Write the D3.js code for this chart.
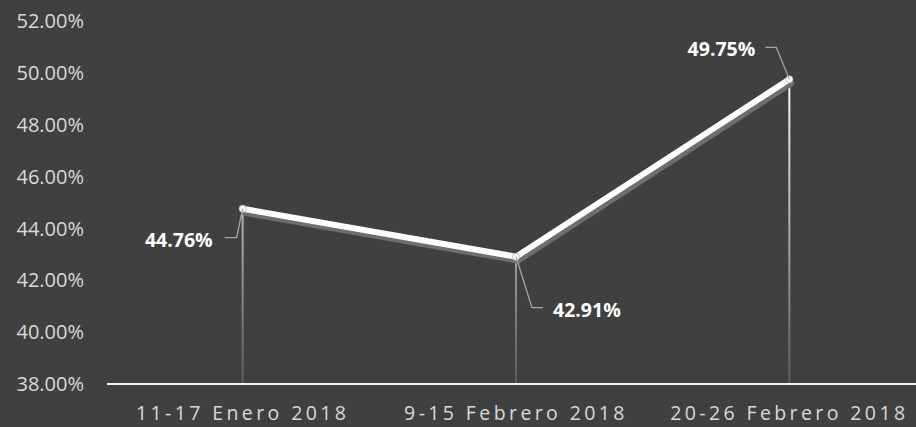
<!DOCTYPE html>
<html>
<head>
<meta charset="utf-8">
<script src="https://cdn.jsdelivr.net/npm/d3@7"></script>
<style>
  body { margin: 0; background: #404040; }
  svg { display: block; }
</style>
</head>
<body>
<svg width="916" height="427"></svg>
<script>
var categories = ["11-17 Enero 2018", "9-15 Febrero 2018", "20-26 Febrero 2018"];
var values = [44.76, 42.91, 49.75];
var yTicks = [38, 40, 42, 44, 46, 48, 50, 52];

var svg = d3.select("svg"),
    width = +svg.attr("width"),
    height = +svg.attr("height");

svg.append("rect").attr("width", width).attr("height", height).attr("fill", "#404040");

var x = d3.scaleBand().domain(categories).range([106, 926]);
var y = d3.scaleLinear().domain([38, 52]).range([384, 21]);
var fmt = function (d) { return d.toFixed(2) + "%"; };

var defs = svg.append("defs");
var grad = defs.append("linearGradient")
    .attr("id", "drop")
    .attr("gradientUnits", "userSpaceOnUse")
    .attr("x1", 0).attr("x2", 0)
    .attr("y1", y(50)).attr("y2", y(38));
grad.append("stop").attr("offset", "0%").attr("stop-color", "#ffffff");
grad.append("stop").attr("offset", "100%").attr("stop-color", "#5a5a5a");

// y axis labels
svg.append("g").selectAll("text")
    .data(yTicks)
    .enter().append("text")
    .attr("x", 84)
    .attr("y", function (d) { return y(d); })
    .attr("dy", "0.36em")
    .attr("text-anchor", "end")
    .attr("fill", "#d9d9d9")
    .style("font-family", "'Open Sans', sans-serif")
    .style("font-size", "20px")
    .text(fmt);

var cx = function (d, i) { return x(categories[i]) + x.bandwidth() / 2; };

// drop lines
svg.append("g").selectAll("line")
    .data(values)
    .enter().append("line")
    .attr("x1", cx).attr("x2", cx)
    .attr("y1", function (d) { return y(d); })
    .attr("y2", y(38))
    .attr("stroke", "url(#drop)")
    .attr("stroke-width", 2);

// baseline
svg.append("line")
    .attr("x1", 107).attr("x2", width)
    .attr("y1", y(38)).attr("y2", y(38))
    .attr("stroke", "#f2f2f2")
    .attr("stroke-width", 2);

var line = d3.line()
    .x(function (d, i) { return cx(d, i); })
    .y(function (d) { return y(d); });

// shadow
svg.append("path")
    .datum(values)
    .attr("d", line)
    .attr("transform", "translate(2,4)")
    .attr("fill", "none")
    .attr("stroke", "#6e6e6e")
    .attr("stroke-width", 6)
    .attr("stroke-linecap", "round")
    .attr("stroke-linejoin", "round");

svg.append("path")
    .datum(values)
    .attr("d", line)
    .attr("fill", "none")
    .attr("stroke", "#ffffff")
    .attr("stroke-width", 6)
    .attr("stroke-linejoin", "round");

svg.append("g").selectAll("circle")
    .data(values)
    .enter().append("circle")
    .attr("cx", cx)
    .attr("cy", function (d) { return y(d); })
    .attr("r", 3.5)
    .attr("fill", "#ffffff")
    .attr("stroke", "#bfbfbf")
    .attr("stroke-width", 1);

// data labels with leader lines (offsets relative to point)
var labelPos = [
  { dx: -30, dy: 31, anchor: "end", leader: [[0, 0], [-6, 29], [-18, 29]] },
  { dx: 37, dy: 53, anchor: "start", leader: [[0, 0], [16, 51], [27, 51]] },
  { dx: -34, dy: -30, anchor: "end", leader: [[0, 0], [-13, -32], [-24, -32]] }
];

var lab = svg.append("g").selectAll("g")
    .data(values)
    .enter().append("g")
    .attr("transform", function (d, i) { return "translate(" + cx(d, i) + "," + y(d) + ")"; });

lab.append("path")
    .attr("d", function (d, i) { return d3.line()(labelPos[i].leader); })
    .attr("fill", "none")
    .attr("stroke", "#a6a6a6")
    .attr("stroke-width", 1.3);

lab.append("text")
    .attr("x", function (d, i) { return labelPos[i].dx; })
    .attr("y", function (d, i) { return labelPos[i].dy; })
    .attr("dy", "0.36em")
    .attr("text-anchor", function (d, i) { return labelPos[i].anchor; })
    .attr("fill", "#ffffff")
    .style("font-family", "'Open Sans', sans-serif")
    .style("font-size", "19.5px")
    .style("font-weight", "bold")
    .text(fmt);

// x labels
svg.append("g").selectAll("text")
    .data(categories)
    .enter().append("text")
    .attr("x", function (d) { return x(d) + x.bandwidth() / 2; })
    .attr("y", 413)
    .attr("dy", "0.36em")
    .attr("text-anchor", "middle")
    .attr("fill", "#d9d9d9")
    .style("font-family", "'Open Sans', sans-serif")
    .style("font-size", "19.5px")
    .style("letter-spacing", "3.4px")
    .text(function (d) { return d; });
</script>
</body>
</html>
